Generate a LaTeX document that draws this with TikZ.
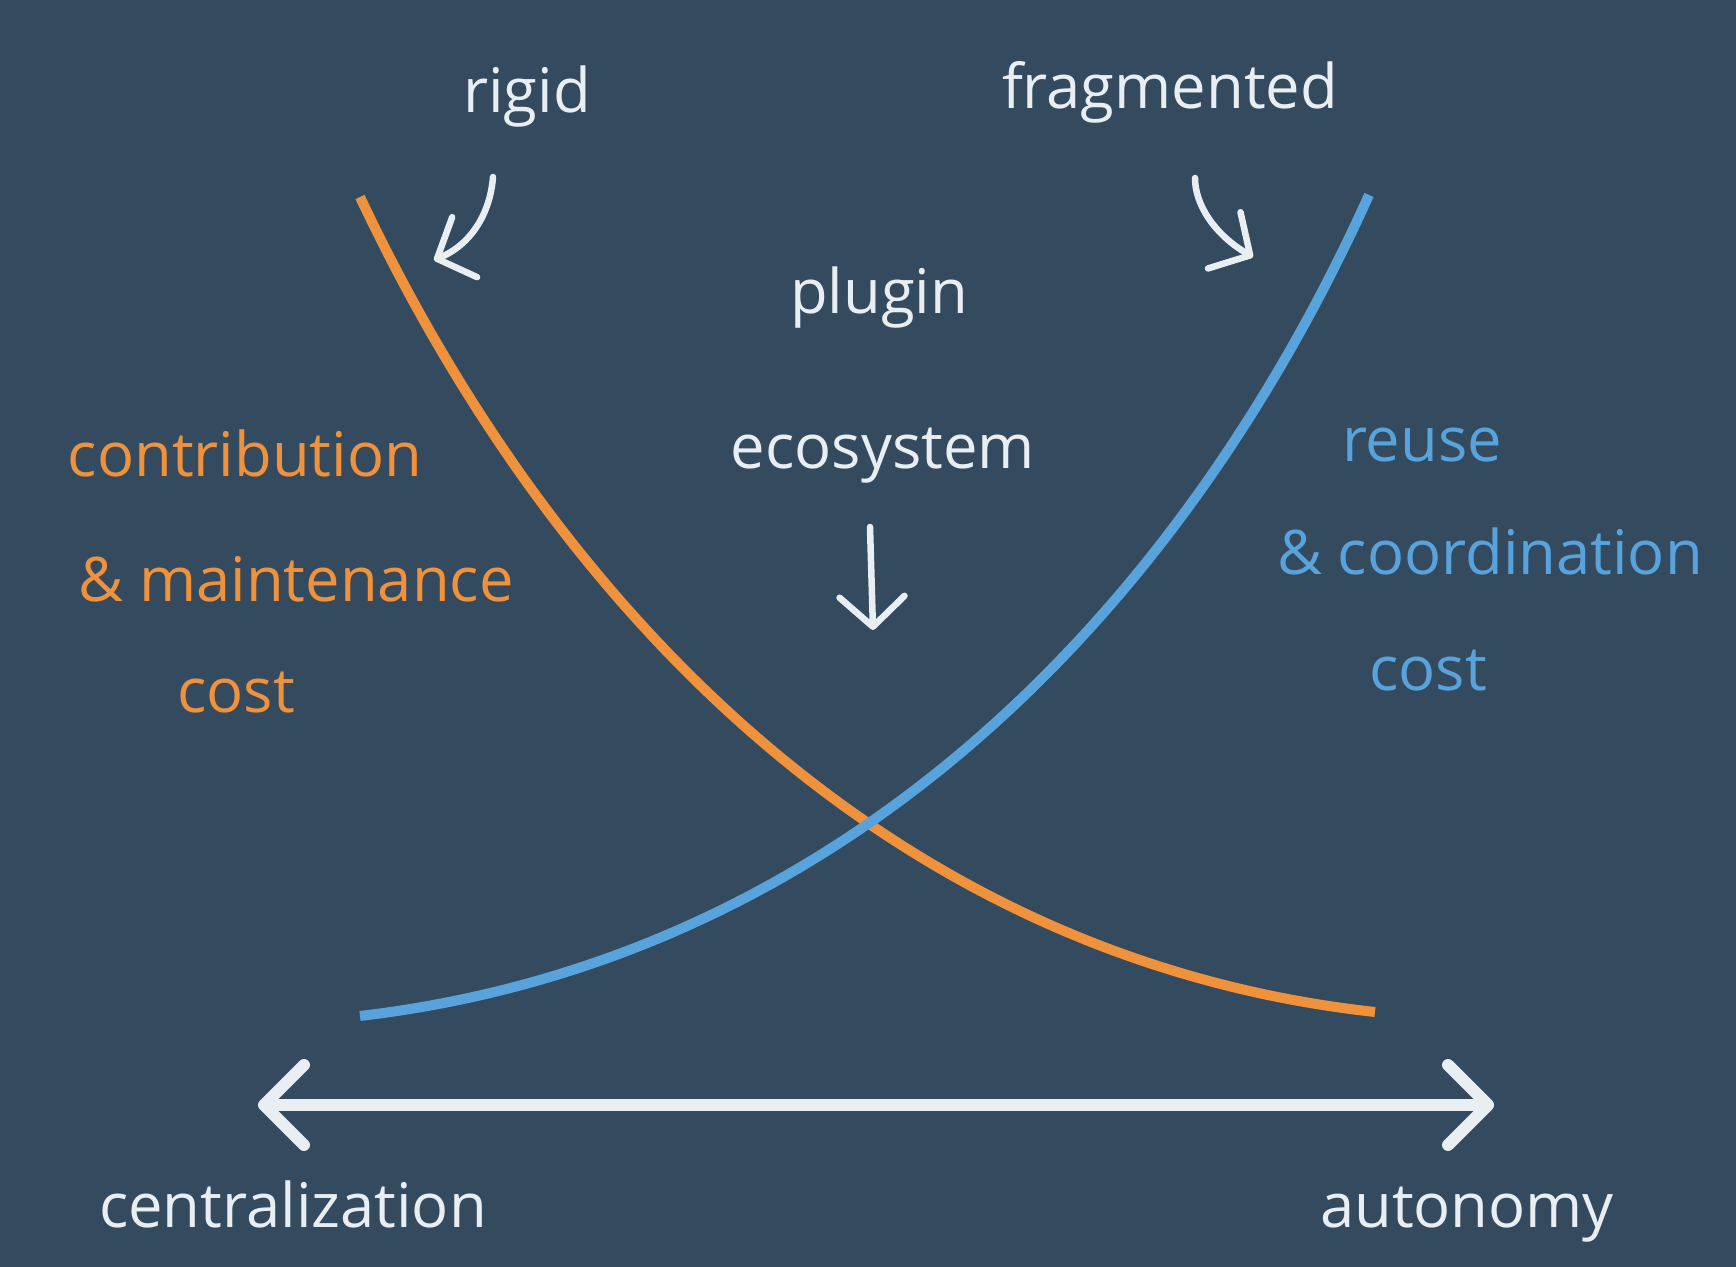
\documentclass[tikz,border=0pt]{standalone}
\usepackage{fontspec}
\setmainfont{Open Sans}
\usetikzlibrary{arrows.meta}
\definecolor{bg}{HTML}{344A5F}
\definecolor{corange}{HTML}{F0913B}
\definecolor{cblue}{HTML}{58A3DC}
\definecolor{cwhite}{HTML}{E9EEF2}
\tikzset{
  lbl/.style={anchor=mid, inner sep=0pt, font=\fontsize{17.5}{20}\selectfont},
  pointer/.style={cwhite, line width=0.65mm, line cap=round,
    -{Straight Barb[length=3mm, width=6.5mm, round]}},
  costcurve/.style={line width=1mm},
}
\begin{document}
\begin{tikzpicture}[x=0.1mm, y=-0.1mm]
\fill[bg] (0,0) rectangle (1736,1267);

\def\lo{360}
\def\hi{1375}

\draw[costcurve, corange] (\lo,197) .. controls (560,620) and (900,960) .. (\hi,1012);
\draw[costcurve, cblue] (\lo,1016) .. controls (837,960) and (1177,620) .. (1369,195);

\node[lbl, cwhite] (rigid) at (527,103) {rigid};
\node[lbl, cwhite] (frag) at (1170,99) {fragmented};
\node[lbl, cwhite] (plug1) at (879,304) {plugin};
\node[lbl, cwhite] (plug2) at (883,459) {ecosystem};

\node[lbl, corange] (c1) at (245,467) {contribution};
\node[lbl, corange] (c2) at (296,592) {\& maintenance};
\node[lbl, corange] (c3) at (236,703) {cost};

\node[lbl, cblue] (r1) at (1422,452) {reuse};
\node[lbl, cblue] (r2) at (1490,565) {\& coordination};
\node[lbl, cblue] (r3) at (1428,681) {cost};

\node[lbl, cwhite] (left) at (293,1218) {centralization};
\node[lbl, cwhite] (right) at (1467,1218) {autonomy};

\coordinate (rigidA) at (493,177);
\coordinate (rigidB) at (434,260);
\coordinate (fragA) at (1195,178);
\coordinate (fragB) at (1253,257);
\coordinate (plugA) at (870,527);
\coordinate (plugB) at (873,630);
\coordinate (axisL) at (258,1105);
\coordinate (axisR) at (1494,1105);

\draw[pointer] (rigidA) .. controls (490,215) and (470,245) .. (rigidB);
\draw[pointer] (fragA) .. controls (1195,205) and (1215,235) .. (fragB);
\draw[pointer] (plugA) -- (plugB);

\draw[cwhite, line width=1.2mm, line cap=round,
  {Straight Barb[length=4mm, width=8mm, round]}-{Straight Barb[length=4mm, width=8mm, round]}]
  (axisL) -- (axisR);
\end{tikzpicture}
\end{document}
